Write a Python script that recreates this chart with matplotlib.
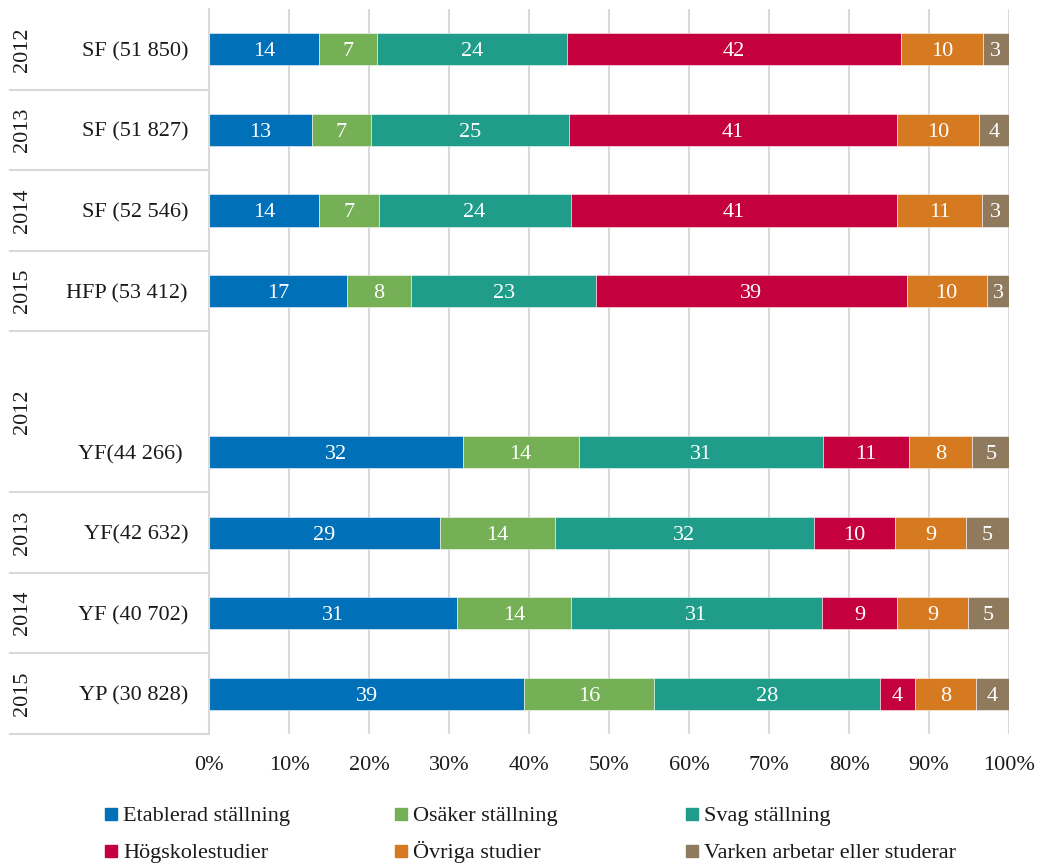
import matplotlib
matplotlib.use("Agg")
import matplotlib.pyplot as plt
from matplotlib.lines import Line2D
from matplotlib.patches import Rectangle
import numpy as np

plt.rcParams['font.family'] = ['Liberation Serif', 'DejaVu Serif']

# ---- data ----
years = ["2012", "2013", "2014", "2015", "2012", "2013", "2014", "2015"]
categories = ["SF (51 850)", "SF (51 827)", "SF (52 546)", "HFP (53 412)", "",
              "YF(44 266) ", "YF(42 632)", "YF (40 702)", "YP (30 828)"]
series_names = ["Etablerad ställning", "Osäker ställning", "Svag ställning",
                "Högskolestudier", "Övriga studier", "Varken arbetar eller studerar"]
etablerad = [13.7, 12.9, 13.8, 17.2, np.nan, 31.7, 28.9, 31.0, 39.4]
osaker    = [7.3, 7.3, 7.4, 8.1, np.nan, 14.5, 14.3, 14.2, 16.2]
svag      = [23.8, 24.8, 24.0, 23.1, np.nan, 30.6, 32.4, 31.4, 28.3]
hogskola  = [41.7, 41.0, 40.8, 38.8, np.nan, 10.7, 10.2, 9.4, 4.3]
ovriga    = [10.2, 10.2, 10.6, 10.0, np.nan, 7.9, 8.8, 8.9, 7.7]
varken    = [3.3, 3.8, 3.4, 2.9, np.nan, 4.7, 5.4, 5.1, 4.1]
xticks = [0, 10, 20, 30, 40, 50, 60, 70, 80, 90, 100]

colors = ["#0070B8", "#75AF56", "#1F9D8A", "#C4003F", "#D67A22", "#8F7A5E"]
FS = 16
TXT = "#1a1a1a"

W, H = 1040, 868
fig = plt.figure(figsize=(W / 100, H / 100), dpi=100)
L, R, T, B = 209, 1009, 9, 734
ax = fig.add_axes([L / W, 1 - B / H, (R - L) / W, (B - T) / H])

values = [etablerad, osaker, svag, hogskola, ovriga, varken]
ypos = np.arange(len(categories))
valid = ~np.isnan(np.array(etablerad, dtype=float))
left = np.zeros(len(categories))
for vals, col, name in zip(values, colors, series_names):
    v = np.nan_to_num(np.array(vals, dtype=float))
    ax.barh(ypos[valid], v[valid], left=left[valid], height=0.4, color=col,
            edgecolor=(1, 1, 1, 0.6), linewidth=0.6, label=name, zorder=3)
    for y in ypos[valid]:
        ax.text(left[y] + v[y] / 2, y, f"{round(v[y]):d}", ha="center",
                va="center_baseline", color="white", fontsize=FS, zorder=4)
    left = left + v

ax.set_xlim(0, 100)
ax.set_ylim(len(categories) - 0.5, -0.5)
ax.set_xticks(xticks)
ax.set_xticklabels([f"{t}%" for t in xticks], fontsize=FS, color=TXT)
ax.tick_params(axis="x", length=0, pad=16)
ax.set_yticks([])
ax.grid(axis="x", color="#D9D9D9", linewidth=1.5, zorder=0)
for s in ["top", "right", "bottom"]:
    ax.spines[s].set_visible(False)
ax.spines["left"].set_color("#D9D9D9")
ax.spines["left"].set_linewidth(1.5)
ax.spines["left"].set_zorder(5)

# multi-level category axis
ytr = ax.get_yaxis_transform()
x0 = (10 - L) / (R - L)
for yb in [0.5, 1.5, 2.5, 3.5, 5.5, 6.5, 7.5, 8.5]:
    ax.add_line(Line2D([x0, 0], [yb, yb], transform=ytr, color="#D9D9D9",
                       linewidth=1.5, clip_on=False))
xcat = (188 - L) / (R - L)
for y, c in enumerate(categories):
    if c:
        ax.text(xcat, y, c, transform=ytr, ha="right", va="center_baseline",
                fontsize=FS, color=TXT)
year_y = [0, 1, 2, 3, 4.5, 6, 7, 8]
xyear = (23 - L) / (R - L)
for y, yr in zip(year_y, years):
    ax.text(xyear, y, yr, transform=ytr, ha="center", va="center", rotation=90,
            fontsize=FS, color=TXT)

# legend
col_x = [105, 395, 686]
row_y = [814, 851]
for i, (name, col) in enumerate(zip(series_names, colors)):
    cx = col_x[i % 3]
    cy = row_y[i // 3]
    fig.patches.append(Rectangle((cx / W, 1 - (cy + 6) / H), 12 / W, 12 / H,
                                 transform=fig.transFigure, color=col))
    fig.text((cx + 18) / W, 1 - (cy + 7) / H, name, ha="left",
             va="baseline", fontsize=FS, color=TXT)

fig.savefig("out.png", dpi=100)
